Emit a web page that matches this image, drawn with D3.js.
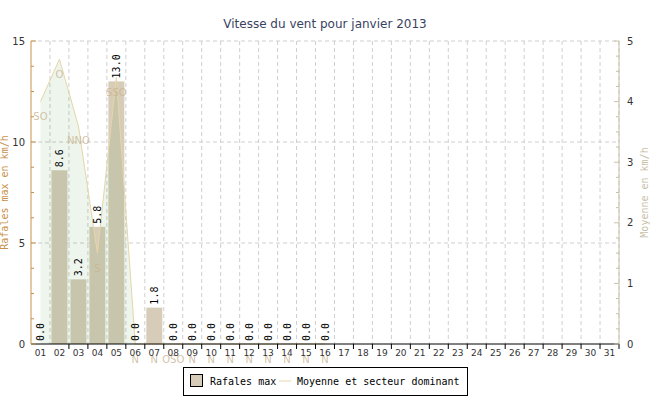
<!doctype html>
<html lang="fr">
<head>
 <meta charset="utf-8">
 <title>Vitesse du vent</title>
 <style>
 body{margin:0;background:#fff;}
 svg{display:block;}
 .mono{font-family:"DejaVu Sans Mono",monospace;}
 </style>
 <script src="https://cdnjs.cloudflare.com/ajax/libs/d3/7.8.5/d3.min.js"></script>
</head>
<body>
 <svg width="650" height="400"></svg>
 <script>

 const days=d3.range(1,32).map(d=>d<10?"0"+d:""+d);
 // rafales max (km/h), jours 17-31 sans donnees
 const gusts=[0.0,8.6,3.2,5.8,13.0,0.0,1.8,0.0,0.0,0.0,0.0,0.0,0.0,0.0,0.0,0.0];
 // vitesse moyenne (km/h)
 const means=[4.0,4.7,3.6,1.5,4.4,0,0,0,0,0,0,0,0,0,0,0];
 const sectors=["SO","O","NNO","S","SSO","N","N","OSO","N","N","N","N","N","N","N","N"];
 const leftTicks=[0,5,10,15];
 const rightTicks=[0,1,2,3,4,5];

 const margin={top:41,left:31,right:31,bottom:56};
 const svgwid=650, svghei=400;
 const width=svgwid-margin.left-margin.right;
 const height=svghei-margin.top-margin.bottom;

 const svg=d3.select("svg");
 const g=svg.append("g").attr("transform",`translate(${margin.left},${margin.top})`);

 const x=d3.scaleBand().domain(days).range([0,width]).padding(0);
 const bw=x.bandwidth();
 const yL=d3.scaleLinear().domain([0,15]).range([height,0]);
 const yR=d3.scaleLinear().domain([0,5]).range([height,0]);

 // grille
 g.append("g").selectAll("line")
 .data(days)
 .enter().append("line")
 .attr("x1",d=>x(d)+bw).attr("x2",d=>x(d)+bw)
 .attr("y1",0).attr("y2",height)
 .attr("stroke","#cfcfcf").attr("stroke-dasharray","4,3");
 g.append("g").selectAll("line")
 .data([5,10,15])
 .enter().append("line")
 .attr("x1",0).attr("x2",width)
 .attr("y1",d=>yL(d)).attr("y2",d=>yL(d))
 .attr("stroke","#cfcfcf").attr("stroke-dasharray","4,3");

 // barres
 g.append("g").selectAll("rect")
 .data(gusts)
 .enter().append("rect")
 .attr("x",(d,i)=>x(days[i])+1.5)
 .attr("width",bw-3)
 .attr("y",d=>yL(d))
 .attr("height",d=>height-yL(d))
 .attr("fill","#d7ccb8");

 // aire moyenne
 const pts=means.map((v,i)=>({day:days[i],v:v}));
 const area=d3.area()
 .x(d=>x(d.day)+bw/2)
 .y0(height)
 .y1(d=>yR(d.v));
 const line=d3.line()
 .x(d=>x(d.day)+bw/2)
 .y(d=>yR(d.v));
 g.append("path").datum(pts)
 .attr("d",area)
 .attr("fill","rgb(0,110,0)")
 .attr("fill-opacity",0.07);
 g.append("path").datum(pts)
 .attr("d",line)
 .attr("fill","none")
 .attr("stroke","#e6d6a8")
 .attr("stroke-width",1);

 // secteurs
 g.append("g").selectAll("text")
 .data(pts)
 .enter().append("text")
 .attr("x",d=>x(d.day)+bw/2)
 .attr("y",d=>yR(d.v)+15)
 .attr("text-anchor","middle")
 .attr("dominant-baseline","central")
 .style("font-family","DejaVu Sans, sans-serif")
 .style("font-size","10px")
 .attr("fill","#cbb595")
 .attr("fill-opacity",0.85)
 .text((d,i)=>sectors[i]);

 // valeurs
 g.append("g").selectAll("text")
 .data(gusts)
 .enter().append("text")
 .attr("class","mono")
 .attr("transform",(d,i)=>`translate(${x(days[i])+bw/2+4},${yL(d)-3}) rotate(-90)`)
 .style("font-size","10px")
 .attr("fill","#000")
 .text(d=>d.toFixed(1));

 // axe x
 const xAxis=g.append("g").attr("transform",`translate(0,${height})`);
 xAxis.append("line").attr("x1",0).attr("x2",width).attr("stroke","#000");
 xAxis.selectAll("line")
 .data(days)
 .enter().append("line")
 .attr("x1",d=>x(d)+bw).attr("x2",d=>x(d)+bw)
 .attr("y1",0).attr("y2",5).attr("stroke","#000");
 xAxis.selectAll("text")
 .data(days)
 .enter().append("text")
 .attr("x",d=>x(d)+bw/2)
 .attr("y",12)
 .attr("text-anchor","middle")
 .style("font-family","DejaVu Sans, sans-serif")
 .style("font-size","9px")
 .attr("fill","#333")
 .text(d=>d);

 // axe gauche
 const yAxisL=g.append("g");
 yAxisL.append("line").attr("x1",0).attr("x2",0).attr("y1",0).attr("y2",height).attr("stroke","#c8914c");
 yAxisL.selectAll("line.t")
 .data(d3.range(0,15.01,1.25))
 .enter().append("line")
 .attr("x1",0).attr("x2",d=>d%5===0?5:3)
 .attr("y1",d=>yL(d)).attr("y2",d=>yL(d))
 .attr("stroke","#c8914c");
 yAxisL.selectAll("text")
 .data(leftTicks)
 .enter().append("text")
 .attr("x",-6).attr("y",d=>yL(d))
 .attr("text-anchor","end").attr("dominant-baseline","central")
 .style("font-family","DejaVu Sans, sans-serif")
 .style("font-size","10px")
 .attr("fill","#333")
 .text(d=>d);
 yAxisL.append("text")
 .attr("class","mono")
 .attr("transform",`translate(${-23},${height/2}) rotate(-90)`)
 .attr("text-anchor","middle")
 .style("font-size","10px")
 .attr("fill","#c8914c")
 .text("Rafales max en km/h");

 // axe droit
 const yAxisR=g.append("g").attr("transform",`translate(${width},0)`);
 yAxisR.append("line").attr("x1",0).attr("x2",0).attr("y1",0).attr("y2",height).attr("stroke","#c8c0a8");
 yAxisR.selectAll("line.t")
 .data(d3.range(0,5.01,0.25))
 .enter().append("line")
 .attr("x1",0).attr("x2",d=>d%1===0?-5:-3)
 .attr("y1",d=>yR(d)).attr("y2",d=>yR(d))
 .attr("stroke","#c8c0a8");
 yAxisR.selectAll("text")
 .data(rightTicks)
 .enter().append("text")
 .attr("x",8).attr("y",d=>yR(d))
 .attr("dominant-baseline","central")
 .style("font-family","DejaVu Sans, sans-serif")
 .style("font-size","10px")
 .attr("fill","#333")
 .text(d=>d);
 yAxisR.append("text")
 .attr("class","mono")
 .attr("transform",`translate(${29},${height/2}) rotate(-90)`)
 .attr("text-anchor","middle")
 .style("font-size","10px")
 .attr("fill","#c8c0a8")
 .text("Moyenne en km/h");

 // titre
 svg.append("text")
 .attr("x",svgwid/2).attr("y",28)
 .attr("text-anchor","middle")
 .style("font-family","DejaVu Sans, sans-serif")
 .style("font-size","12px")
 .attr("fill","#3a4262")
 .text("Vitesse du vent pour janvier 2013");

 // legende
 const leg=svg.append("g").attr("transform","translate(183,367)");
 leg.append("rect").attr("x",0.5).attr("y",0.5).attr("width",284).attr("height",28)
 .attr("fill","#fff").attr("stroke","#000");
 leg.append("rect").attr("x",7.5).attr("y",7.5).attr("width",12).attr("height",12)
 .attr("fill","#d7ccb8").attr("stroke","#000");
 leg.append("text").attr("class","mono").attr("x",27).attr("y",18)
 .style("font-size","10px").text("Rafales max");
 leg.append("line").attr("x1",96).attr("x2",108).attr("y1",14).attr("y2",14)
 .attr("stroke","#e6d6a8");
 leg.append("text").attr("class","mono").attr("x",114).attr("y",18)
 .style("font-size","10px").text("Moyenne et secteur dominant");

 </script>
</body>
</html>
